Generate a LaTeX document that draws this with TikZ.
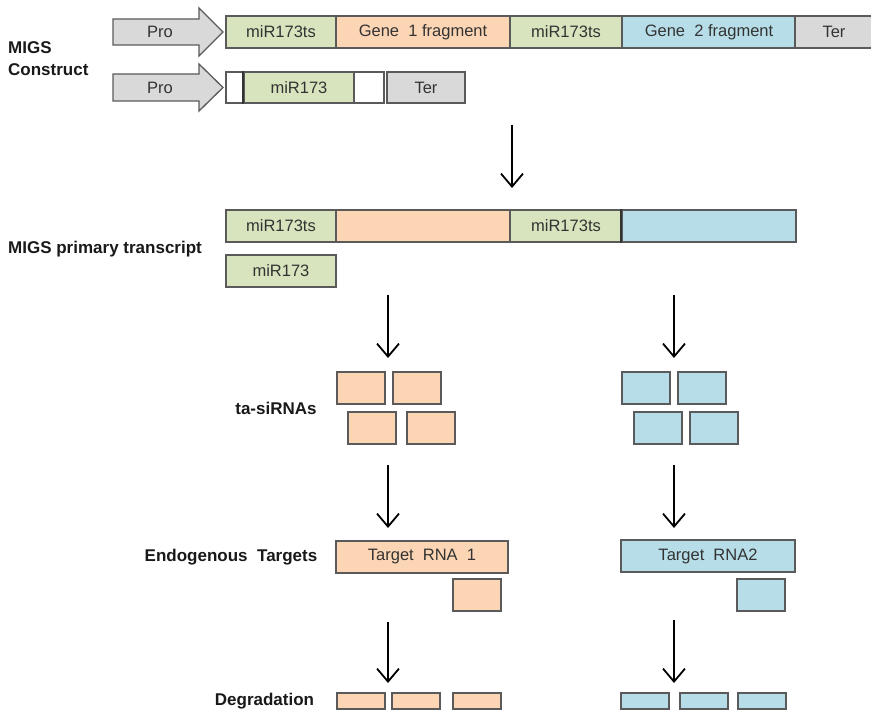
\documentclass[tikz,border=0pt]{standalone}
\usepackage{fontspec}
\setmainfont{Liberation Sans}
\usetikzlibrary{arrows.meta}
\definecolor{cgreen}{HTML}{D7E4BD}
\definecolor{corange}{HTML}{FCD5B5}
\definecolor{cblue}{HTML}{B7DEE8}
\definecolor{cgray}{HTML}{D9D9D9}
\definecolor{cborder}{HTML}{5A5A5A}
\definecolor{ctext}{HTML}{333333}
\tikzset{
  box/.style={draw=cborder, line width=1.3pt, inner sep=0pt, font=\fontsize{16.5}{19}\selectfont, text=ctext},
  gbox/.style={box, fill=cgreen},
  obox/.style={box, fill=corange},
  bbox/.style={box, fill=cblue},
  ybox/.style={box, fill=cgray},
  wbox/.style={box, fill=white},
  lbl/.style={font=\fontsize{17}{22}\selectfont\bfseries, inner sep=0pt, text=black!90},
  flow/.style={line width=1.8pt, -{Straight Barb[length=13pt, width=22pt, line width=1.8pt]}},
  proarrow/.style={draw=cborder, line width=1.3pt, fill=cgray}
}
\begin{document}
\begin{tikzpicture}[x=1pt, y=-1pt]
\useasboundingbox (0,0) rectangle (871,711);
% row 1
\draw[proarrow] (113,19) -- (199,19) -- (199,8) -- (223,32) -- (199,56) -- (199,45) -- (113,45) -- cycle;
\node[font=\fontsize{16.5}{19}\selectfont, text=ctext] (pro1) at (160,32) {Pro};
\node[gbox, minimum width=110pt, minimum height=32pt] (m1) at (281,32) {miR173ts};
\node[obox, minimum width=174pt, minimum height=32pt] (g1) at (423,32) {Gene\ \ 1 fragment};
\node[gbox, minimum width=112pt, minimum height=32pt] (m2) at (566,32) {miR173ts};
\node[bbox, minimum width=174pt, minimum height=32pt] (g2) at (709,32) {Gene\ \ 2 fragment};
\node[ybox, minimum width=78pt, minimum height=32pt] (t1) at (834,32) {Ter};
% row 2
\draw[proarrow] (113,74) -- (199,74) -- (199,64) -- (223,87.5) -- (199,111) -- (199,101) -- (113,101) -- cycle;
\node[font=\fontsize{16.5}{19}\selectfont, text=ctext] (pro2) at (160,87.5) {Pro};
\node[wbox, minimum width=18pt, minimum height=31pt] (w1) at (235,87.5) {};
\node[gbox, minimum width=110pt, minimum height=31pt] (mi) at (299,87.5) {miR173};
\draw[line width=1.8pt, black!80] (mi.north west) -- (mi.south west);
\node[wbox, minimum width=30pt, minimum height=31pt] (w2) at (369,87.5) {};
\node[ybox, minimum width=78pt, minimum height=31pt] (t2) at (426,87.5) {Ter};
\node[lbl, align=left, anchor=west] (lc) at (8,59) {MIGS\\Construct};
% arrow 1
\coordinate (a1s) at (512,125);
\coordinate (a1e) at (512,188);
\draw[flow] (a1s) -- (a1e);
% row 3
\node[gbox, minimum width=110pt, minimum height=32pt] (p1) at (281,226) {miR173ts};
\node[obox, minimum width=174pt, minimum height=32pt] (p2) at (423,226) {};
\node[gbox, minimum width=112pt, minimum height=32pt] (p3) at (566,226) {miR173ts};
\node[bbox, minimum width=174pt, minimum height=32pt] (p4) at (709,226) {};
\draw[line width=1.8pt, black!80] (p4.north west) -- (p4.south west);
\node[gbox, minimum width=110pt, minimum height=32pt] (pm) at (281,271) {miR173};
\node[lbl, anchor=west] (lp) at (8,249) {MIGS primary transcript};
% arrows 2
\coordinate (a2s) at (388,295); \coordinate (a2e) at (388,358);
\coordinate (a3s) at (674,295); \coordinate (a3e) at (674,358);
\draw[flow] (a2s) -- (a2e);
\draw[flow] (a3s) -- (a3e);
% ta-siRNAs
\node[obox, minimum width=48pt, minimum height=32pt] (s1) at (361,388) {};
\node[obox, minimum width=48pt, minimum height=32pt] (s2) at (417,388) {};
\node[obox, minimum width=48pt, minimum height=32pt] (s3) at (372,428) {};
\node[obox, minimum width=48pt, minimum height=32pt] (s4) at (431,428) {};
\node[bbox, minimum width=48pt, minimum height=32pt] (b1) at (646,388) {};
\node[bbox, minimum width=48pt, minimum height=32pt] (b2) at (702,388) {};
\node[bbox, minimum width=48pt, minimum height=32pt] (b3) at (658,428) {};
\node[bbox, minimum width=48pt, minimum height=32pt] (b4) at (714,428) {};
\node[lbl] (lt) at (276,408) {ta-siRNAs};
% arrows 3
\coordinate (a4s) at (388,465); \coordinate (a4e) at (388,528);
\coordinate (a5s) at (674,465); \coordinate (a5e) at (674,528);
\draw[flow] (a4s) -- (a4e);
\draw[flow] (a5s) -- (a5e);
% targets
\node[obox, minimum width=172pt, minimum height=32pt] (r1) at (422,557) {Target\ \ RNA\ \ 1};
\node[obox, minimum width=48pt, minimum height=32pt] (r1s) at (477,595) {};
\node[bbox, minimum width=174pt, minimum height=32pt] (r2) at (708,556) {Target\ \ RNA2};
\node[bbox, minimum width=48pt, minimum height=32pt] (r2s) at (761,595) {};
\node[lbl] (le) at (231,557) {Endogenous\ \ Targets};
% arrows 4
\coordinate (a6s) at (388,622); \coordinate (a6e) at (388,683);
\coordinate (a7s) at (674,620); \coordinate (a7e) at (674,683);
\draw[flow] (a6s) -- (a6e);
\draw[flow] (a7s) -- (a7e);
% degradation
\node[obox, minimum width=48pt, minimum height=16pt] (d1) at (361,701) {};
\node[obox, minimum width=48pt, minimum height=16pt] (d2) at (416,701) {};
\node[obox, minimum width=48pt, minimum height=16pt] (d3) at (477,701) {};
\node[bbox, minimum width=48pt, minimum height=16pt] (e1) at (645,701) {};
\node[bbox, minimum width=48pt, minimum height=16pt] (e2) at (704,701) {};
\node[bbox, minimum width=48pt, minimum height=16pt] (e3) at (762,701) {};
\node[lbl] (ld) at (264.5,701) {Degradation};
\end{tikzpicture}
\end{document}
